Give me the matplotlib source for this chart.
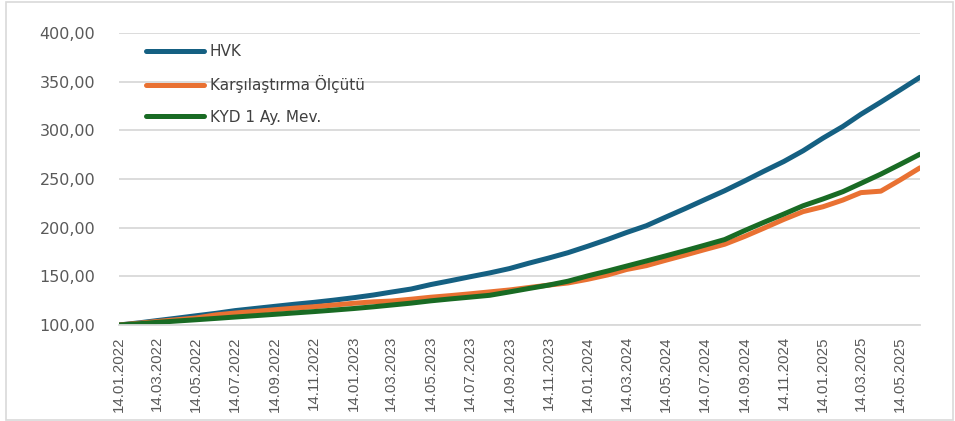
import matplotlib.pyplot as plt
from matplotlib import font_manager
from matplotlib.patches import Rectangle
import pandas as pd

# aylik degerler (her ayin 14'u), 14.01.2022 - 14.06.2025
dates = pd.date_range('2022-01-01', periods=42, freq='MS') + pd.Timedelta(days=13)

hvk = [100.0, 102.2, 104.5, 107.0, 109.5, 112.0, 114.8, 117.0, 119.2, 121.3, 123.3, 125.5,
       128.0, 130.8, 133.8, 137.0, 141.5, 145.5, 149.5, 153.5, 158.0, 163.5, 168.8, 174.3,
       181.0, 188.0, 195.0, 202.0, 210.8, 219.8, 228.8, 238.0, 248.0, 258.0, 268.0, 279.0,
       292.0, 304.0, 316.5, 329.0, 341.5, 354.5]

olcut = [100.0, 101.8, 103.6, 105.4, 107.2, 110.4, 112.3, 114.0, 115.7, 117.3, 118.8, 120.5,
         122.3, 123.8, 124.6, 126.5, 128.5, 130.2, 132.0, 134.0, 136.0, 138.5, 141.0, 143.2,
         147.0, 151.5, 157.0, 161.0, 166.5, 172.0, 177.5, 183.0, 191.0, 199.5, 208.5, 216.5,
         221.5, 228.4, 236.0, 237.5, 249.0, 261.5]

kyd = [100.0, 101.3, 102.7, 104.1, 105.4, 106.8, 108.2, 109.6, 111.0, 112.4, 113.8, 115.3,
       116.9, 118.7, 120.5, 122.5, 124.8, 126.8, 128.6, 130.5, 134.0, 137.5, 141.0, 145.0,
       150.5, 155.5, 160.5, 165.8, 171.0, 176.5, 182.0, 187.8, 197.0, 205.5, 214.0, 222.5,
       229.5, 237.0, 245.5, 255.0, 265.0, 275.5]

tick_labels = ['14.01.2022', '14.03.2022', '14.05.2022', '14.07.2022', '14.09.2022', '14.11.2022',
               '14.01.2023', '14.03.2023', '14.05.2023', '14.07.2023', '14.09.2023', '14.11.2023',
               '14.01.2024', '14.03.2024', '14.05.2024', '14.07.2024', '14.09.2024', '14.11.2024',
               '14.01.2025', '14.03.2025', '14.05.2025']
y_ticks = [100, 150, 200, 250, 300, 350, 400]

# dar yazi tipi varsa onu kullan
names = {f.name for f in font_manager.fontManager.ttflist}
if 'Liberation Sans Narrow' in names:
    xfont = dict(family='Liberation Sans Narrow', fontsize=12)
else:
    xfont = dict(family='Liberation Sans', fontsize=10.8)

fig = plt.figure(figsize=(9.55, 4.21), dpi=100)
ax = fig.add_axes([119 / 955, 1 - 325 / 421, (920 - 119) / 955, (325 - 33) / 421])

ax.plot(dates, hvk, color='#156082', lw=3.6, label='HVK', solid_capstyle='round')
ax.plot(dates, olcut, color='#E97132', lw=3.6, label='Karşılaştırma Ölçütü', solid_capstyle='round')
ax.plot(dates, kyd, color='#196B24', lw=3.6, label='KYD 1 Ay. Mev.', solid_capstyle='round')

ax.set_xlim(dates[0], dates[-1])
ax.set_ylim(100, 400)
ax.set_yticks(y_ticks)
ax.set_yticklabels([f'{v:.2f}'.replace('.', ',') for v in y_ticks], fontsize=11.5, color='#595959')
ax.set_xticks(pd.to_datetime(tick_labels, format='%d.%m.%Y'))
ax.set_xticklabels(tick_labels, rotation=90, color='#595959', **xfont)
ax.tick_params(length=0, pad=8)
ax.tick_params(axis='y', pad=17)

ax.grid(axis='y', color='#d9d9d9', lw=1.3)
ax.set_axisbelow(True)
for s in ['top', 'right', 'left']:
    ax.spines[s].set_visible(False)
ax.spines['bottom'].set_color('#d9d9d9')
ax.spines['bottom'].set_linewidth(1.3)

leg = ax.legend(loc='upper left', bbox_to_anchor=(0.016, 1.008), frameon=False, fontsize=11,
                handlelength=3.8, labelspacing=1.05, handletextpad=0.4)
for t in leg.get_texts():
    t.set_color('#404040')

fig.patches.append(Rectangle((6 / 955, 1 / 421), 947 / 955, 418 / 421, transform=fig.transFigure,
                             fill=False, edgecolor='#d9d9d9', lw=1.2))

fig.savefig('out.png', dpi=100)
